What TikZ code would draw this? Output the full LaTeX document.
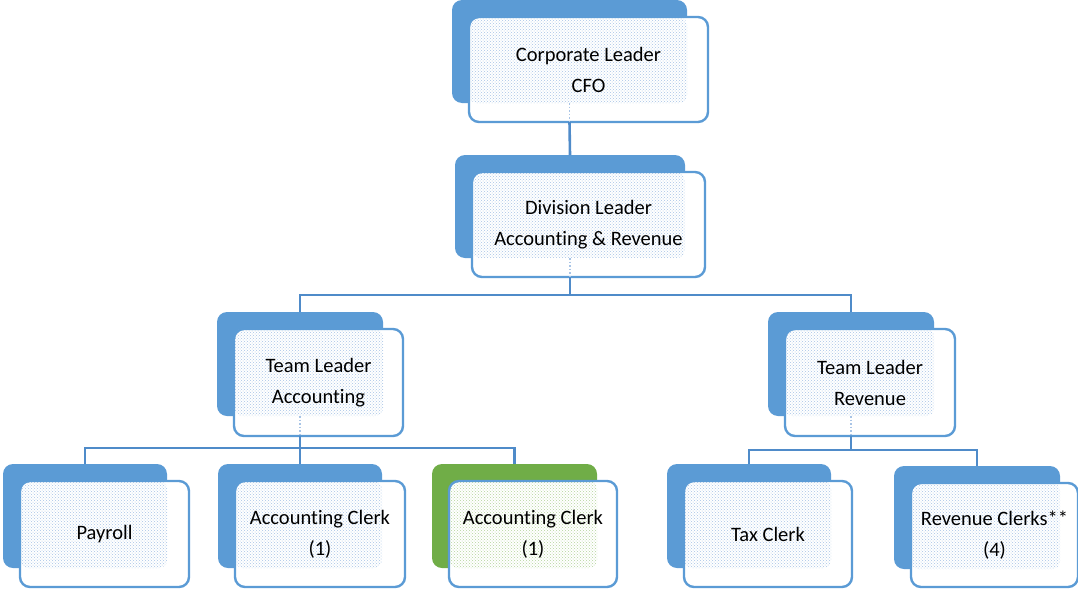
\documentclass[tikz,border=0pt]{standalone}
\usepackage{fontspec}
\setmainfont[Ligatures=NoCommon]{Carlito}
\usetikzlibrary{patterns}
\definecolor{ablue}{HTML}{5B9BD5}
\definecolor{agreen}{HTML}{70AD47}
\definecolor{dotblue}{HTML}{A8C4E6}
\definecolor{dotgreen}{HTML}{B4D49C}
\definecolor{connblue}{HTML}{4F8BC9}
\tikzset{
  backbox/.style={rounded corners=10pt, fill=a#1, draw=none, inner sep=0pt, outer sep=0pt},
  frontfill/.style={rounded corners=10pt, fill=white, draw=none, inner sep=0pt, outer sep=0pt},
  frontdraw/.style={rounded corners=10pt, draw=ablue, line width=2.4pt, inner sep=0pt, outer sep=0pt,
    align=center, font=\fontsize{20.5}{31}\selectfont},
  conn/.style={draw=connblue, line width=2.6pt},
  trace/.style={draw=dotblue, line width=1.5pt, dotted},
}
% name, backL, backT, backR, backB, frontR, frontB, text, colour
\newcommand{\orgbox}[9]{%
  \node[backbox=#9, minimum width={#4-#2}, minimum height={#5-#3}] (#1b) at ({(#2+#4)/2},{(#3+#5)/2}) {};
  \node[frontfill, minimum width={#6-#2-17}, minimum height={#7-#3-17}] (#1) at ({(#2+17+#6)/2},{(#3+17+#7)/2}) {};
  \fill[pattern=crosshatch dots, pattern color=dot#9, rounded corners=8pt] ({#2+17},{#3+17}) rectangle (#4,#5);
  \node[frontdraw, minimum width={#6-#2-17}, minimum height={#7-#3-17}] (#1t) at (#1) {#8};
}
\begin{document}
\begin{tikzpicture}[x=1pt,y=-1pt]
\useasboundingbox (0,0) rectangle (1078,589);
% bus coordinates
\coordinate (bus1) at (570,295);
\coordinate (bus2) at (300,448);
\coordinate (bus3) at (851,450);
% nodes
\orgbox{cfo}{452}{0}{687}{103}{708}{122}{Corporate Leader\\CFO}{blue}
\orgbox{div}{455}{155}{685}{258}{705}{277}{Division Leader\\Accounting \& Revenue}{blue}
\orgbox{tla}{217}{312}{383}{416}{403}{436}{Team Leader\\Accounting}{blue}
\orgbox{tlr}{768}{312}{934}{416}{955}{436}{Team Leader\\Revenue}{blue}
\orgbox{pay}{3}{464}{167}{568}{189}{587}{Payroll}{blue}
\orgbox{aca}{218}{464}{382}{568}{405}{587}{Accounting Clerk\\(1)}{blue}
\orgbox{acb}{432}{464}{597}{568}{617}{587}{Accounting Clerk\\(1)}{green}
\orgbox{tax}{667}{464}{831}{568}{852}{587}{Tax Clerk}{blue}
\orgbox{rev}{894}{466}{1060}{569}{1078}{587}{Revenue Clerks**\\(4)}{blue}
% connectors
\draw[conn] (cfo.south -| cfob.south) -- (divb.north);
\draw[trace] (cfob.south) -- (cfo.south -| cfob.south);
\draw[conn] (div.south -| bus1) -- (bus1);
\draw[trace] (divb.south -| bus1) -- (div.south -| bus1);
\draw[conn] (tlab.north) |- (bus1);
\draw[conn] (tlrb.north) |- (bus1);
\draw[conn] (tla.south -| bus2) -- (bus2);
\draw[trace] (tlab.south -| bus2) -- (tla.south -| bus2);
\draw[conn] (payb.north) |- (bus2);
\draw[conn] (acab.north) |- (bus2);
\draw[conn] (acbb.north) |- (bus2);
\draw[conn] (tlr.south -| bus3) -- (bus3);
\draw[trace] (tlrb.south -| bus3) -- (tlr.south -| bus3);
\draw[conn] (taxb.north) |- (bus3);
\draw[conn] (revb.north) |- (bus3);
\end{tikzpicture}
\end{document}
